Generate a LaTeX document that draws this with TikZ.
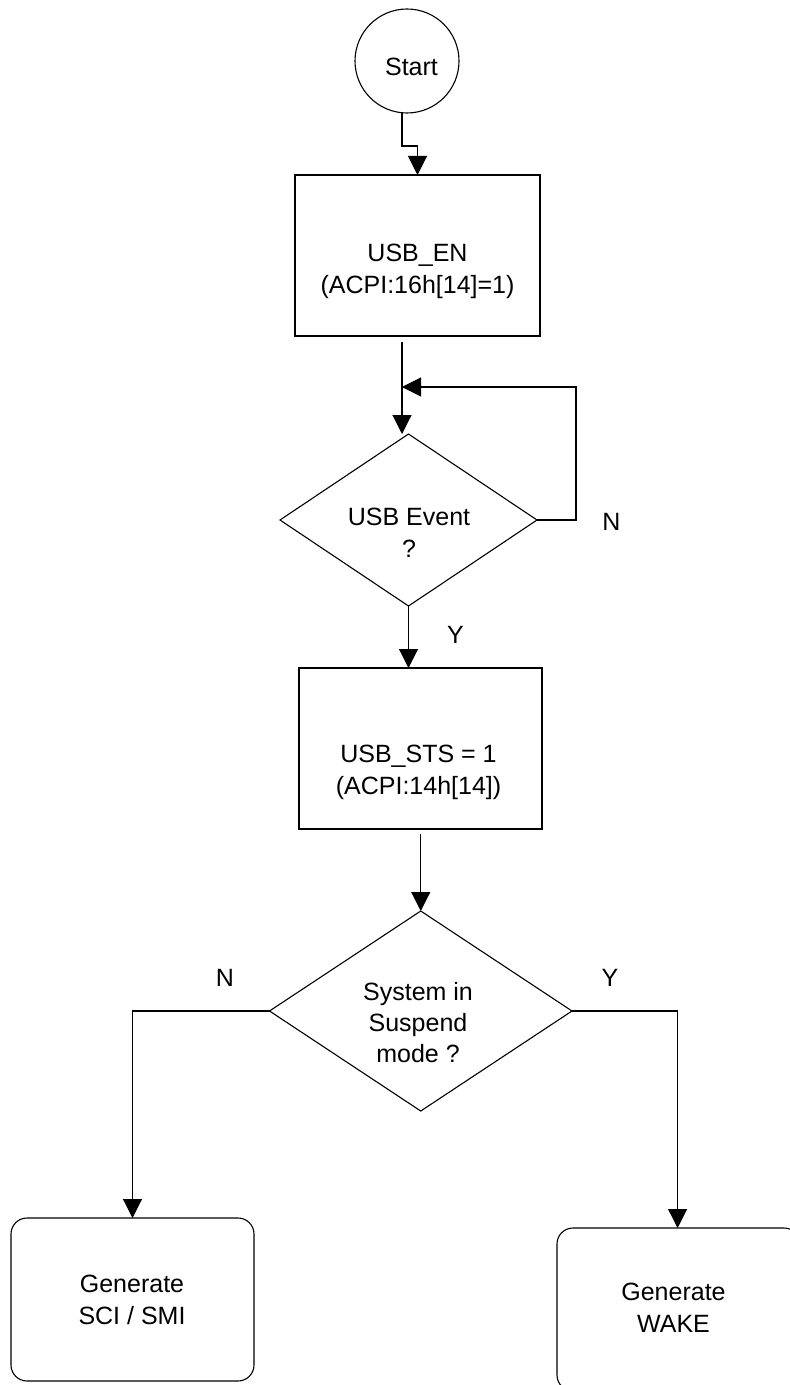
\documentclass[tikz,border=0pt]{standalone}
\usepackage{fontspec}
\setmainfont{Liberation Sans}
\usetikzlibrary{shapes.geometric,arrows.meta}
\begin{document}
\begin{tikzpicture}[x=0.5pt,y=-0.5pt,
  every node/.style={inner sep=0pt,outer sep=0pt},
  ln/.style={line width=0.55pt,draw=black},
  arr/.style={ln,-{Triangle[length=9.5pt,width=9.5pt]}},
  procbox/.style={draw=black,line width=0.55pt,rectangle},
  endbox/.style={draw=black,line width=0.55pt,rectangle,rounded corners=8pt,minimum width=121.5pt,minimum height=81.5pt},
  decide/.style={draw=black,line width=0.55pt,diamond},
  txt/.style={font=\fontsize{12.5}{16}\selectfont,align=center},
  lbl/.style={font=\fontsize{12.5}{15}\selectfont}]
\useasboundingbox (0,0) rectangle (790,1385);
\clip (0,0) rectangle (790,1385);
% shapes
\node[draw=black,line width=0.55pt,circle,minimum size=52pt] (start) at (407,61) {};
\node[procbox,minimum width=122.5pt,minimum height=80.5pt] (b1) at (417.5,255.5) {};
\node[decide,minimum width=128.5pt,minimum height=86pt] (d1) at (408.5,520) {};
\node[procbox,minimum width=121.5pt,minimum height=80.5pt] (b2) at (420.5,748.5) {};
\node[decide,minimum width=151.25pt,minimum height=100pt] (d2) at (420.75,1011) {};
\node[endbox] (l1) at (132.5,1299.5) {};
\node[endbox] (r1) at (678.5,1309.5) {};
% texts
\node[txt] (tstart) at (411.5,67) {Start};
\node[txt] (tb1) at (417.5,271) {USB\_EN\\(ACPI:16h[14]=1)};
\node[txt] (td1) at (409,533) {USB Event\\?};
\node[txt] (tb2) at (418.5,772.5) {USB\_STS = 1\\(ACPI:14h[14])};
\node[font=\fontsize{12.5}{15.5}\selectfont,align=center] (td2) at (418,1022.5) {System in\\Suspend\\mode ?};
\node[txt] (tl1) at (132,1300) {Generate\\SCI / SMI};
\node[txt] (tr1) at (673.5,1307.5) {Generate\\WAKE};
% labels
\node[lbl] (n1) at (611.5,521.5) {N};
\node[lbl] (y1) at (455.5,635) {Y};
\node[lbl] (n2) at (225,977.5) {N};
\node[lbl] (y2) at (610,977.5) {Y};
% connectors
\coordinate (s0) at (402,113);
\coordinate (s1) at (402,146);
\coordinate (s2) at (417.5,146);
\draw[arr] (s0) -- (s1) -- (s2) -- (b1.north);
\coordinate (e1) at (402,342);
\draw[arr] (e1) -- (e1 |- d1.north);
\coordinate (fbr) at (576,520);
\coordinate (fb) at (402,387);
\draw[arr] (d1.east) -- (fbr) |- (fb);
\draw[arr] (d1.south) -- (d1.south |- b2.north);
\coordinate (e2) at (420.75,834);
\draw[arr] (e2) -- (d2.north);
\draw[arr] (d2.west) -| (l1.north);
\coordinate (rr) at (677.6,1011);
\draw[ln] (d2.east) -- (rr);
\draw[arr] (rr) -- (rr |- r1.north);
\end{tikzpicture}
\end{document}
